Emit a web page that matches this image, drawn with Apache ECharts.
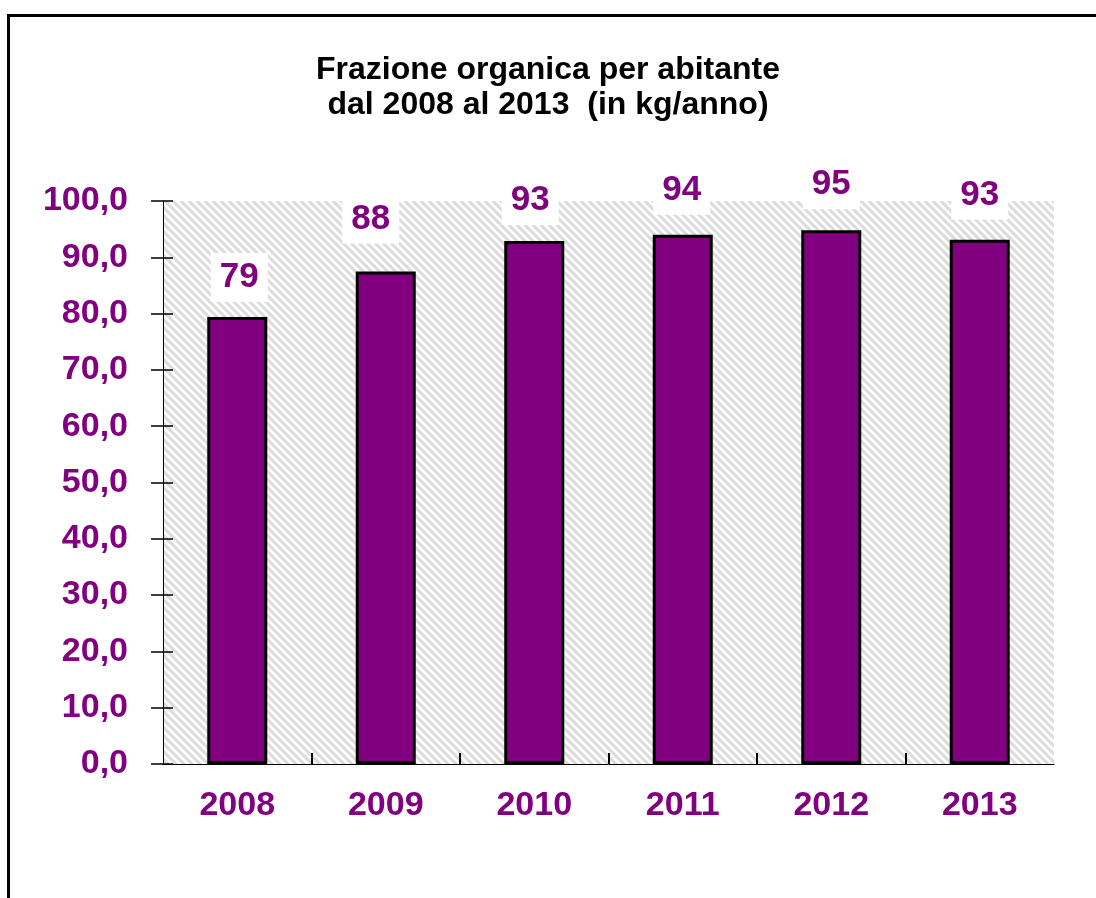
<!DOCTYPE html>
<html>
<head>
<meta charset="utf-8">
<script src="https://cdn.jsdelivr.net/npm/echarts@6/dist/echarts.min.js"></script>
<style>
  html, body { margin: 0; padding: 0; background: #fff; }
  #chart { position: absolute; left: 0; top: 0; width: 1096px; height: 898px; }
  #frame { position: absolute; left: 7px; top: 14px; right: 0; bottom: 0;
           border-top: 3px solid #000; border-left: 3px solid #000; pointer-events: none; }
</style>
</head>
<body>
<div id="chart"></div>
<div id="frame"></div>
<script>
const years = ['2008', '2009', '2010', '2011', '2012', '2013'];
const kgPerInhabitant = [79.4, 87.5, 92.9, 94.0, 94.8, 93.1];
// label placement as in the original: gap above the bar, and sideways nudge
const labelGap = [15, 28, 16, 20, 21, 20];
const labelShift = [2, -15, -4, -1, 0, 0];

const PURPLE = '#800080';
const FONT = '"Liberation Sans", Arial, sans-serif';

// hatched plot background
const T = 8;
const tile = document.createElement('canvas');
tile.width = tile.height = T;
const ctx = tile.getContext('2d');
ctx.fillStyle = '#dcdcdc';
ctx.fillRect(0, 0, T, T);
ctx.strokeStyle = '#ffffff';
ctx.lineWidth = 2.6;
ctx.beginPath();
[-T, 0, T].forEach((o) => {
  ctx.moveTo(o - 1, -1);
  ctx.lineTo(o + T + 1, T + 1);
});
ctx.stroke();

const chart = echarts.init(document.getElementById('chart'));

chart.setOption({
  animation: false,
  backgroundColor: '#fff',
  title: {
    text: 'Frazione organica per abitante\ndal 2008 al 2013  (in kg/anno)',
    left: 543,
    top: 48,
    textAlign: 'center',
    textStyle: { fontFamily: FONT, fontSize: 32, fontWeight: 'bold', color: '#000', lineHeight: 35 },
  },
  grid: {
    left: 163, right: 42, top: 201, bottom: 134,
    show: true,
    borderWidth: 0,
    backgroundColor: { image: tile, repeat: 'repeat' },
  },
  xAxis: [
    {
      type: 'category',
      data: years,
      axisLine: { lineStyle: { color: '#000', width: 1 } },
      axisTick: { length: 11, lineStyle: { color: '#000', width: 2 } },
      axisLabel: { color: PURPLE, fontFamily: FONT, fontSize: 34, fontWeight: 'bold', margin: 25 },
    },
    {
      // inner half of the crossing ticks
      type: 'category',
      position: 'bottom',
      boundaryGap: false,
      data: ['', '', '', '', '', '', ''],
      axisLine: { show: false },
      axisTick: { inside: true, length: 11, interval: (i) => i > 0 && i < 6, lineStyle: { color: '#000', width: 2 } },
      axisLabel: { show: false },
    },
  ],
  yAxis: [
    {
      type: 'value',
      min: 0, max: 100, interval: 10,
      axisLine: { show: true, lineStyle: { color: '#000', width: 1 } },
      axisTick: { show: true, length: 12, lineStyle: { color: '#000', width: 1.5 } },
      splitLine: { show: false },
      axisLabel: {
        color: PURPLE, fontFamily: FONT, fontSize: 34, fontWeight: 'bold', margin: 35,
        formatter: (v) => v.toFixed(1).replace('.', ','),
      },
    },
    {
      type: 'value',
      position: 'left',
      min: 0, max: 100, interval: 10,
      axisLine: { show: false },
      axisTick: { show: true, inside: true, length: 10, lineStyle: { color: '#000', width: 1.5 } },
      splitLine: { show: false },
      axisLabel: { show: false },
    },
  ],
  series: [
    {
      type: 'bar',
      barWidth: 60,
      data: kgPerInhabitant.map((v, i) => ({
        value: v,
        label: { distance: labelGap[i], offset: [labelShift[i], 0] },
      })),
      itemStyle: { color: PURPLE, borderColor: '#000', borderWidth: 3 },
      label: {
        show: true,
        position: 'top',
        formatter: (p) => String(Math.round(p.value)),
        color: PURPLE,
        fontFamily: FONT,
        fontSize: 35,
        fontWeight: 'bold',
        lineHeight: 35,
        backgroundColor: '#fff',
        padding: [7, 9],
      },
    },
  ],
});
</script>
</body>
</html>
